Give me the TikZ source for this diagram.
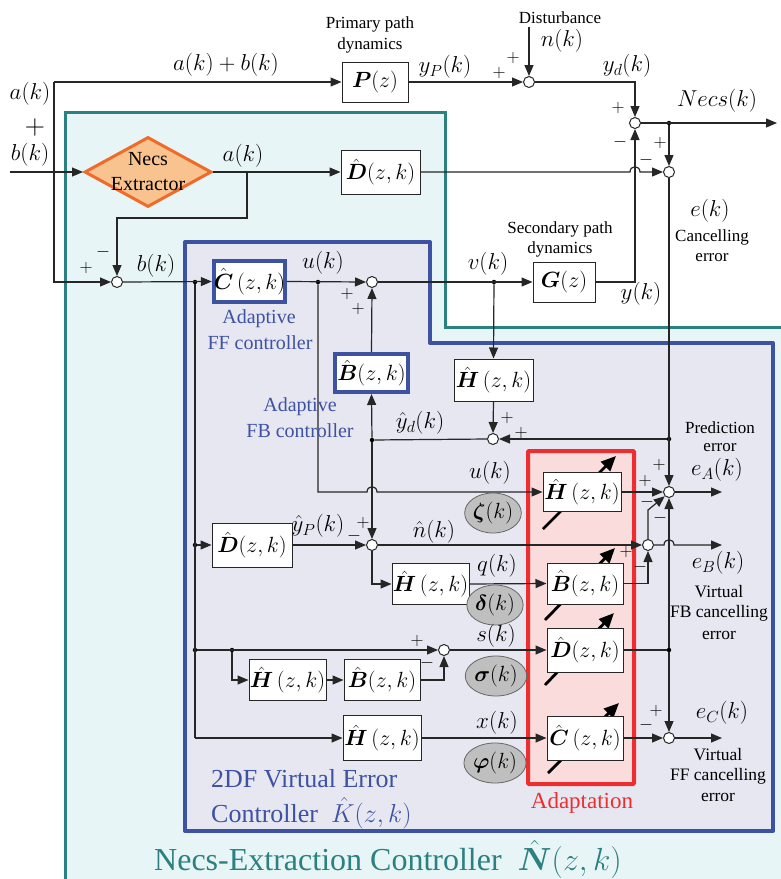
\RequirePackage{fix-cm}
\documentclass[tikz,border=0pt]{standalone}
\usepackage{amsmath}
\usepackage{fontspec}
\setmainfont{Liberation Serif}
\usetikzlibrary{arrows.meta,shapes.geometric}
\definecolor{cyanF}{HTML}{E8F5F7}
\definecolor{tealC}{HTML}{2B8080}
\definecolor{blueC}{HTML}{3D52A1}
\definecolor{lavF}{HTML}{E7E7F2}
\definecolor{redC}{HTML}{EE2E2E}
\definecolor{pinkF}{HTML}{FADCDC}
\definecolor{orF}{HTML}{F8C38E}
\definecolor{orC}{HTML}{EE6B2A}
\newcommand{\fsz}[1]{\fontsize{#1}{#1}\selectfont}
\newcommand{\bh}[1]{\hat{\boldsymbol{#1}}}
\tikzset{
 wire/.style={line width=1.2pt, draw=black!85},
 arr/.style={wire, -{Triangle[length=11pt,width=9pt]}},
 blk/.style={draw=black!85, fill=white, line width=1pt, inner sep=0pt, font=\fsz{22}},
 bblk/.style={blk, draw=blueC, line width=4pt},
 sumc/.style={circle, draw=black!85, fill=white, line width=1pt, minimum size=11pt, inner sep=0pt},
 jdot/.style={circle, fill=black, inner sep=0pt, minimum size=4.5pt},
 ml/.style={font=\fsz{23}, inner sep=0pt},
 sg/.style={font=\fsz{18}, inner sep=0pt},
 smt/.style={font=\fsz{17}, inner sep=0pt, align=center},
 vt/.style={font=\fsz{17.5}, inner sep=0pt, align=center},
 blt/.style={font=\fsz{20}, inner sep=0pt, text=blueC},
 adapt/.style={line width=2.8pt, -{Triangle[length=15pt,width=13pt]}},
 gell/.style={ellipse, draw=black!60, line width=0.8pt, fill=black!25, minimum width=46pt, minimum height=40pt, inner sep=0pt, font=\fsz{22}},
}
\begin{document}
\begin{tikzpicture}[x=1pt,y=-1pt]
\useasboundingbox (0,0) rectangle (780,879);
\fill[white] (0,0) rectangle (780,879);
% regions
\fill[cyanF] (65,112) -- (445,112) -- (445,327) -- (782,327) -- (782,881) -- (65,881) -- cycle;
\draw[tealC, line width=3pt] (65,881) -- (65,112) -- (445,112) -- (445,327) -- (782,327);
\draw[blueC, line width=4pt, fill=lavF, line join=round] (185,242) -- (430,242) -- (430,343) -- (773,343) -- (773,831) -- (185,831) -- cycle;
\draw[redC, line width=4pt, fill=pinkF, rounded corners=1pt] (528,451) rectangle (634,784);
% adaptation arrows
\draw[adapt] (543,529) -- (616,456);
\draw[adapt] (545,620) -- (615,548);
\draw[adapt] (545,685) -- (614,613);
\draw[adapt] (548,773) -- (619,703);
% blocks
\node[blk, minimum width=66pt, minimum height=40pt] (P) at (375,82) {$\boldsymbol{P}(z)$};
\node[blk, minimum width=79pt, minimum height=44pt] (Dt) at (380.5,172) {$\bh{D}(z,k)$};
\node[blk, minimum width=62pt, minimum height=40pt] (G) at (564,282) {$\boldsymbol{G}(z)$};
\node[bblk, minimum width=71pt, minimum height=41pt] (C) at (249.5,281.5) {$\bh{C}\,(z,k)$};
\node[bblk, minimum width=73pt, minimum height=38pt] (Bfb) at (371.5,373) {$\bh{B}(z,k)$};
\node[blk, minimum width=79pt, minimum height=42pt] (Hm) at (493.5,380) {$\bh{H}\,(z,k)$};
\node[blk, minimum width=80pt, minimum height=44pt] (Dl) at (252,545) {$\bh{D}(z,k)$};
\node[blk, minimum width=77pt, minimum height=41pt] (Hq) at (430.5,584) {$\bh{H}\,(z,k)$};
\node[blk, minimum width=77pt, minimum height=41pt] (Hs) at (287.5,680) {$\bh{H}\,(z,k)$};
\node[blk, minimum width=76pt, minimum height=41pt] (Bs) at (382,680) {$\bh{B}(z,k)$};
\node[blk, minimum width=78pt, minimum height=45pt] (Hx) at (382,738) {$\bh{H}\,(z,k)$};
\node[blk, minimum width=78pt, minimum height=39pt] (Ha) at (582,492) {$\bh{H}\,(z,k)$};
\node[blk, minimum width=76pt, minimum height=41pt] (Br) at (585,583.5) {$\bh{B}(z,k)$};
\node[blk, minimum width=76pt, minimum height=44pt] (Dr) at (585,650) {$\bh{D}(z,k)$};
\node[blk, minimum width=76pt, minimum height=44pt] (Cr) at (585,738) {$\bh{C}\,(z,k)$};
% extractor
\node[diamond, draw=orC, fill=orF, line width=3pt, minimum width=127pt, minimum height=70pt, inner sep=0pt] (NE) at (148,172) {};
\node[font=\fsz{20}, align=center, inner sep=0pt] (NEt) at (148,172) {Necs\\[5pt]Extractor};
% sums
\node[sumc] (S1) at (529,82) {};
\node[sumc] (S2) at (635,123) {};
\node[sumc] (S3) at (669,172) {};
\node[sumc] (Sb) at (117,282) {};
\node[sumc] (Su) at (372,282) {};
\node[sumc] (Sp) at (493,439) {};
\node[sumc] (Sn) at (372,545) {};
\node[sumc] (Ss) at (444,650) {};
\node[sumc] (SA) at (669,492) {};
\node[sumc] (SB) at (648,545) {};
\node[sumc] (SC) at (669,738) {};
% dots and coordinates
\coordinate (in) at (10,172);
\coordinate (tl) at (54,82);
\coordinate (bl) at (54,282);
\coordinate (dist) at (529,27);
\coordinate (nout) at (777,123);
\node[jdot] (d1) at (669,123) {};
\coordinate (br1) at (247,172);
\coordinate (br1b) at (247,218);
\node[jdot] (db) at (195,282) {};
\node[jdot] (du) at (318,282) {};
\node[jdot] (dv) at (494,282) {};
\node[jdot] (dpe) at (669,439) {};
\node[jdot] (dyd) at (372,440) {};
\node[jdot] (dD) at (195,545) {};
\node[jdot] (dS) at (195,650) {};
\node[jdot] (dS2) at (232,650) {};
\node[jdot] (dDr) at (669,650) {};
\coordinate (dx) at (195,738);
\coordinate (eAo) at (722,492);
\coordinate (eBo) at (722,545);
\coordinate (eCo) at (722,738);
% connectors
\draw[arr] (in) -- (NE.west);
\draw[arr] (tl) -- (P.west);
\draw[arr] (tl) -- (bl) -- (Sb.west);
\draw[arr] (P.east) -- (S1.west);
\draw[arr] (dist) -- (S1.north);
\draw[arr] (S1.east) -| (S2.north);
\draw[arr] (S2.east) -- (nout);
\draw[arr] (d1) -- (S3.north);
\draw[arr] (NE.east) -- (Dt.west);
\draw[arr] (br1) -- (br1b) -| (Sb.north);
\draw[arr] (Dt.east) -- (630,172) .. controls (630,165) and (640,165) .. (640,172) -- (S3.west);
\draw[arr] (Sb.east) -- (C.west);
\draw[wire] (db) -- (dx);
\draw[arr] (dx) -- (Hx.west);
\draw[arr] (dD) -- (Dl.west);
\draw[arr] (dS) -- (Ss.west);
\draw[arr] (C.east) -- (Su.west);
\draw[arr] (Su.east) -- (G.west);
\draw[arr] (dv) -- (Hm.north);
\draw[arr] (G.east) -| (S2.south);
\draw[arr] (S3.south) -- (SA.north);
\draw[arr] (dpe) -- (Sp.east);
\draw[arr] (Hm.south) -- (Sp.north);
\draw[wire] (Sp.west) -- (dyd);
\draw[arr] (dyd) -- (Bfb.south);
\draw[arr] (Bfb.north) -- (Su.south);
\draw[arr] (dyd) -- (Sn.north);
\draw[arr] (du) -- (318,492) -- (367,492) .. controls (367,485) and (377,485) .. (377,492) -- (Ha.west);
\draw[arr] (Ha.east) -- (SA.west);
\draw[arr] (SA.east) -- (eAo);
\draw[arr] (Dl.east) -- (Sn.west);
\draw[arr] (Sn.east) -- (SB.west);
\draw[arr] (SB.east) -- (664,545) .. controls (664,538) and (674,538) .. (674,545) -- (eBo);
\draw[arr] (SB.north) -- (648,510) -- (SA.south west);
\draw[arr] (Sn.south) |- (Hq.west);
\draw[arr] (Hq.east) -- (Br.west);
\draw[arr] (Br.east) -| (SB.south);
\draw[arr] (dS2) |- (Hs.west);
\draw[arr] (Hs.east) -- (Bs.west);
\draw[arr] (Bs.east) -| (Ss.south);
\draw[arr] (Ss.east) -- (Dr.west);
\draw[wire] (Dr.east) -- (dDr);
\draw[arr] (dDr) -- (SA.south);
\draw[arr] (dDr) -- (SC.north);
\draw[arr] (Hx.east) -- (Cr.west);
\draw[arr] (Cr.east) -- (SC.west);
\draw[arr] (SC.east) -- (eCo);
% gray ellipses
\node[gell] (zeta) at (493,513) {$\boldsymbol{\zeta}(k)$};
\node[gell] (delta) at (495,605) {$\boldsymbol{\delta}(k)$};
\node[gell] (sigma) at (496,676) {$\boldsymbol{\sigma}(k)$};
\node[gell] (phi) at (495,763) {$\boldsymbol{\varphi}(k)$};
% labels
\node[smt] at (370,24) {Primary path};
\node[smt] at (370,45) {dynamics};
\node[ml] at (226,65) {$a(k)+b(k)$};
\node[ml] at (30,94) {$a(k)$};
\node[font=\fsz{28}, inner sep=0pt] at (35,127) {$+$};
\node[ml] at (30,155) {$b(k)$};
\node[ml] at (445,67) {$y_P(k)$};
\node[sg] at (499,73) {$+$};
\node[sg] at (513,58) {$+$};
\node[smt] at (560,18) {Disturbance};
\node[ml] at (562,41) {$n(k)$};
\node[ml] at (627,66) {$y_d(k)$};
\node[sg] at (618,108) {$+$};
\node[sg] at (620,142) {$-$};
\node[ml] at (717,101) {$Necs(k)$};
\node[sg] at (660,143) {$+$};
\node[sg] at (646,160) {$-$};
\node[ml] at (243,156) {$a(k)$};
\node[sg] at (103,252) {$-$};
\node[sg] at (86,268) {$+$};
\node[ml] at (156,266) {$b(k)$};
\node[ml] at (710,211) {$e(k)$};
\node[smt] at (712,237) {Cancelling};
\node[smt] at (712,258) {error};
\node[smt] at (560,229) {Secondary path};
\node[smt] at (560,249) {dynamics};
\node[ml] at (488,264) {$v(k)$};
\node[ml] at (641,294) {$y(k)$};
\node[ml] at (323,263) {$u(k)$};
\node[sg] at (347,294) {$+$};
\node[sg] at (358,309) {$+$};
\node[blt] at (259,319) {Adaptive};
\node[blt] at (260,343) {FF controller};
\node[blt] at (300,407) {Adaptive};
\node[blt] at (300,431) {FB controller};
\node[sg] at (507,418) {$+$};
\node[sg] at (521,433) {$+$};
\node[smt] at (720,428) {Prediction};
\node[smt] at (720,448) {error};
\node[ml] at (420,423) {$\hat{y}_d(k)$};
\node[ml] at (490,473) {$u(k)$};
\node[sg] at (645,481) {$+$};
\node[sg] at (647,502) {$-$};
\node[sg] at (659,465) {$+$};
\node[sg] at (660,518) {$-$};
\node[ml] at (717,470) {$e_A(k)$};
\node[ml] at (318,526) {$\hat{y}_P(k)$};
\node[sg] at (354,536) {$-$};
\node[sg] at (363,523) {$+$};
\node[ml] at (434,532) {$\hat{n}(k)$};
\node[sg] at (626,552) {$+$};
\node[sg] at (640,567) {$-$};
\node[ml] at (718,563) {$e_B(k)$};
\node[vt] at (719,592) {Virtual};
\node[vt] at (719,613) {FB cancelling};
\node[vt] at (719,635) {error};
\node[ml] at (497,566) {$q(k)$};
\node[ml] at (496,636) {$s(k)$};
\node[sg] at (417,641) {$+$};
\node[sg] at (427,663) {$-$};
\node[ml] at (497,723) {$x(k)$};
\node[sg] at (646,725) {$-$};
\node[sg] at (656,711) {$+$};
\node[ml] at (722,713) {$e_C(k)$};
\node[vt] at (718,755) {Virtual};
\node[vt] at (718,776) {FF cancelling};
\node[vt] at (718,797) {error};
\node[font=\fsz{23}, text=redC, inner sep=0pt] at (582,803) {Adaptation};
\node[font=\fsz{26}, text=blueC, inner sep=0pt, anchor=west] at (211,779) {2DF Virtual Error};
\node[font=\fsz{26}, text=blueC, inner sep=0pt, anchor=west] at (211,813) {Controller \ $\hat{K}(z,k)$};
\node[font=\fsz{32}, text=tealC, inner sep=0pt] at (388,859) {Necs-Extraction Controller \ $\bh{N}(z,k)$};
\end{tikzpicture}
\end{document}
